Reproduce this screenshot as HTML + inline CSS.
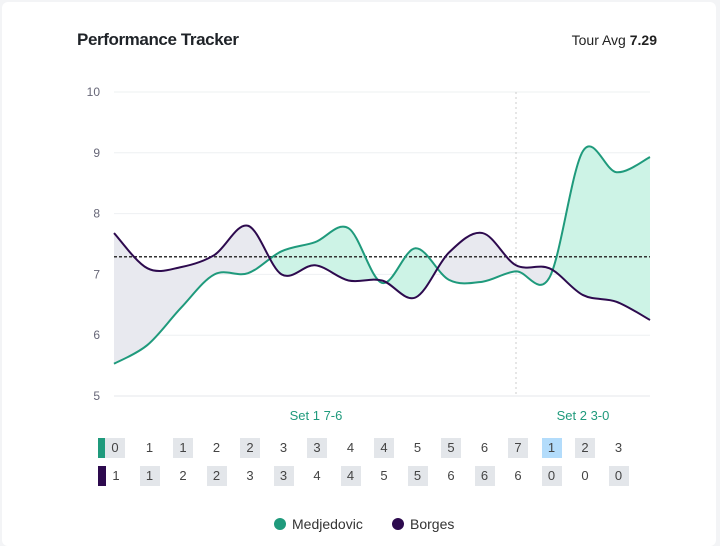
<!DOCTYPE html><html><head><style>
html,body{margin:0;background:#f3f4f6;width:720px;height:546px;overflow:hidden;font-family:"Liberation Sans",sans-serif}
.card{position:absolute;left:2px;top:2px;width:714px;height:544px;background:#fff;border-radius:6px}
.t{position:absolute;font-size:17px;color:#1f2328;font-weight:bold;left:77px;top:30px;letter-spacing:-0.4px}
.avg{position:absolute;right:63px;top:32px;font-size:14px;color:#222}
.c{position:absolute;font-size:13px;color:#444;text-align:center;width:20px;line-height:20px;height:20px}
.b{background:#e3e6ea}.bl{background:#b3dcfb}
</style></head><body><div class="card"></div>
<div class="t">Performance Tracker</div><div class="avg">Tour Avg <b>7.29</b></div>
<svg id="s" width="720" height="546" style="position:absolute;left:0;top:0" font-family="Liberation Sans, sans-serif"></svg>
<div id="rows"></div>
<script>
const X=i=>114+i*33.5,Y=v=>92+(10-v)*60.8;
const g=[5.53,5.84,6.45,7.0,7.02,7.38,7.53,7.76,6.86,7.43,6.91,6.88,7.05,6.95,9.03,8.68,8.93];
const p=[7.68,7.1,7.12,7.32,7.8,7.0,7.15,6.9,6.9,6.62,7.36,7.68,7.15,7.1,6.66,6.55,6.25];
function path(a){let P=a.map((v,i)=>[X(i),Y(v)]);let d=`M${P[0]}`;for(let i=0;i<P.length-1;i++){let p0=P[i-1]||P[i],p1=P[i],p2=P[i+1],p3=P[i+2]||p2;let c1=[p1[0]+(p2[0]-p0[0])/6,p1[1]+(p2[1]-p0[1])/6],c2=[p2[0]-(p3[0]-p1[0])/6,p2[1]-(p3[1]-p1[1])/6];d+=`C${c1} ${c2} ${p2}`;}return d;}
const gd=path(g),pd=path(p),L=X(0),R=X(16);
let s='';
[5,6,7,8,9,10].forEach(v=>{s+=`<line x1="${L}" x2="${R}" y1="${Y(v)}" y2="${Y(v)}" stroke="#eef0f2"/><text x="100" y="${Y(v)+4}" text-anchor="end" font-size="12" fill="#667">${v}</text>`});
s+=`<line x1="${L}" x2="${R}" y1="396" y2="396" stroke="#e5e7eb"/>`;
s+=`<line x1="516" x2="516" y1="92" y2="396" stroke="#ccc" stroke-dasharray="2,3"/>`;
s+=`<defs><clipPath id="ag"><path d="${gd}L${R},0L${L},0Z"/></clipPath><clipPath id="ap"><path d="${pd}L${R},0L${L},0Z"/></clipPath></defs>`;
s+=`<path d="${pd}L${R},600L${L},600Z" fill="#e8e9ef" clip-path="url(#ag)"/>`;
s+=`<path d="${gd}L${R},600L${L},600Z" fill="#cdf3e6" clip-path="url(#ap)"/>`;
s+=`<line x1="${L}" x2="${R}" y1="${Y(7.29)}" y2="${Y(7.29)}" stroke="#333" stroke-dasharray="3,2" stroke-width="1.5"/>`;
s+=`<path d="${gd}" fill="none" stroke="#1f9a7c" stroke-width="2"/><path d="${pd}" fill="none" stroke="#2d0a4e" stroke-width="2"/>`;
s+=`<text x="316" y="420" text-anchor="middle" font-size="13" fill="#1f9a7c">Set 1 7-6</text><text x="583" y="420" text-anchor="middle" font-size="13" fill="#1f9a7c">Set 2 3-0</text>`;
s+=`<rect x="98" y="438" width="8" height="20" fill="#1f9a7c"/><rect x="98" y="466" width="8" height="20" fill="#2d0a4e"/>`;
s+=`<circle cx="280" cy="524" r="6" fill="#1f9a7c"/><text x="292" y="529" font-size="14" fill="#333">Medjedovic</text><circle cx="398" cy="524" r="6" fill="#2d0a4e"/><text x="410" y="529" font-size="14" fill="#333">Borges</text>`;
document.getElementById('s').innerHTML=s;
const r1=[0,1,1,2,2,3,3,4,4,5,5,6,7,1,2,3],r2=[1,1,2,2,3,3,4,4,5,5,6,6,6,0,0,0];
let h='';
r1.forEach((v,i)=>{let c=i==13?'bl':(i%2==0?'b':'');h+=`<div class="c ${c}" style="left:${X(i)-8+(i==0?-1:0)}px;top:438px">${v}</div>`});
r2.forEach((v,i)=>{let c=i%2==1?'b':'';h+=`<div class="c ${c}" style="left:${X(i)-8}px;top:466px">${v}</div>`});
document.getElementById('rows').innerHTML=h;
</script></body></html>
